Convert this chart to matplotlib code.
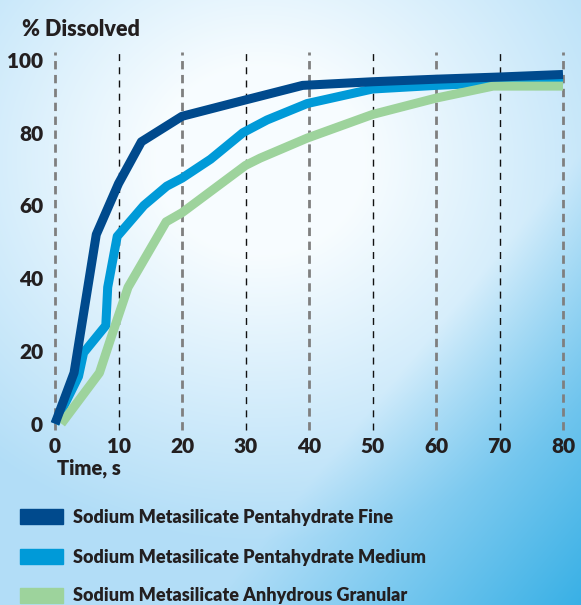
import matplotlib.pyplot as plt
import numpy as np

# dissolution curves (% dissolved vs time in s)
fine_t = [0, 3, 6.5, 10, 13.6, 20, 30, 39, 50, 60, 70, 80]
fine_y = [0, 14, 52, 66, 77.5, 84.5, 89, 93, 94, 94.7, 95.3, 96]

medium_t = [0, 3.7, 4.5, 8, 8.3, 9.8, 14, 17.6, 20, 24.5, 29.6, 33.4, 39.7, 50, 60, 70, 80]
medium_y = [0, 13, 19.5, 27, 37.5, 51.5, 60, 65.3, 67.5, 72.7, 80, 83.5, 88, 92, 93, 93.8, 94.5]

gran_t = [1, 7, 8.7, 11.5, 17.5, 20, 30, 32.3, 39.7, 50, 60, 69, 80]
gran_y = [0, 14, 23, 37.5, 55.5, 58, 71, 73, 78.5, 85, 89.5, 92.8, 92.8]

labels = ['Sodium Metasilicate Pentahydrate Fine',
          'Sodium Metasilicate Pentahydrate Medium',
          'Sodium Metasilicate Anhydrous Granular']
colors = ['#004a8d', '#009ad8', '#9dd39c']

xticks = [0, 10, 20, 30, 40, 50, 60, 70, 80]
yticks = [0, 20, 40, 60, 80, 100]

plt.rcParams['font.family'] = ['Lato', 'DejaVu Sans']
txt = '#231f20'
wt = 'heavy'

W, H = 581, 605
fig = plt.figure(figsize=(W / 100, H / 100), dpi=100)

# background gradient
bg = fig.add_axes([0, 0, 1, 1])
yy, xx = np.mgrid[0:H, 0:W]
d = np.sqrt(((xx - 260) / 420.0) ** 2 + ((yy - 160) / 380.0) ** 2)
t = np.clip((d - 0.25) / 0.75, 0, 1)[..., None]
white = np.array([0.97, 0.99, 1.0])
light = np.array([0.70, 0.87, 0.97])
deep = np.array([0.22, 0.69, 0.90])
img = white * (1 - t) + light * t
c = np.clip(((xx / W) * 0.7 + (yy / H) * 0.6 - 0.85) / 0.45, 0, 1)[..., None]
img = img * (1 - c) + deep * c
bg.imshow(img, aspect='auto', extent=[0, 1, 0, 1], origin='upper')
bg.axis('off')

# main plot
x0, x1 = -1, 81
y0, y1 = -2, 103
ax = fig.add_axes([48.65 / W, 1 - 431 / H, (569.35 - 48.65) / W, (431 - 49) / H])
ax.set_xlim(x0, x1)
ax.set_ylim(y0, y1)
ax.patch.set_alpha(0)
for s in ax.spines.values():
    s.set_visible(False)

for xv in xticks:
    if xv % 20 == 0:
        ax.vlines(xv, -1.6, 102.2, colors='#7f7f7f', lw=2, linestyles=(0, (3, 2)), zorder=1)
    else:
        ax.vlines(xv, -1.6, 102.2, colors='#111111', lw=1, linestyles=(0, (5, 4.5)), zorder=1)

ax.plot(medium_t, medium_y, color=colors[1], lw=6.5, solid_capstyle='butt', zorder=2, clip_on=False)
ax.plot(gran_t, gran_y, color=colors[2], lw=6.5, solid_capstyle='butt', zorder=3, clip_on=False)
ax.plot(fine_t, fine_y, color=colors[0], lw=6.5, solid_capstyle='butt', zorder=4, clip_on=False)

ax.set_xticks(xticks)
ax.set_yticks(yticks)
ax.set_xticklabels([str(v) for v in xticks], fontsize=15, fontweight=wt, color=txt)
ax.set_yticklabels([str(v) for v in yticks], fontsize=15, fontweight=wt, color=txt)
ax.tick_params(length=0, pad=4)

fig.text(22 / W, 1 - 29 / H, '% Dissolved', fontsize=15.5, fontweight=wt, color=txt, va='center', ha='left')
fig.text(57 / W, 1 - 468 / H, 'Time, s', fontsize=14.5, fontweight=wt, color=txt, va='center', ha='left')

# legend
rows = [517, 557, 596]
for lab, col, ry in zip(labels, colors, rows):
    fig.patches.append(plt.Rectangle((20 / W, 1 - (ry + 7) / H), 43 / W, 15 / H,
                                     transform=fig.transFigure, color=col, zorder=5))
    fig.text(73 / W, 1 - ry / H, lab, fontsize=13, fontweight=wt, color=txt, va='center', ha='left')

fig.savefig('out.png', dpi=100)
